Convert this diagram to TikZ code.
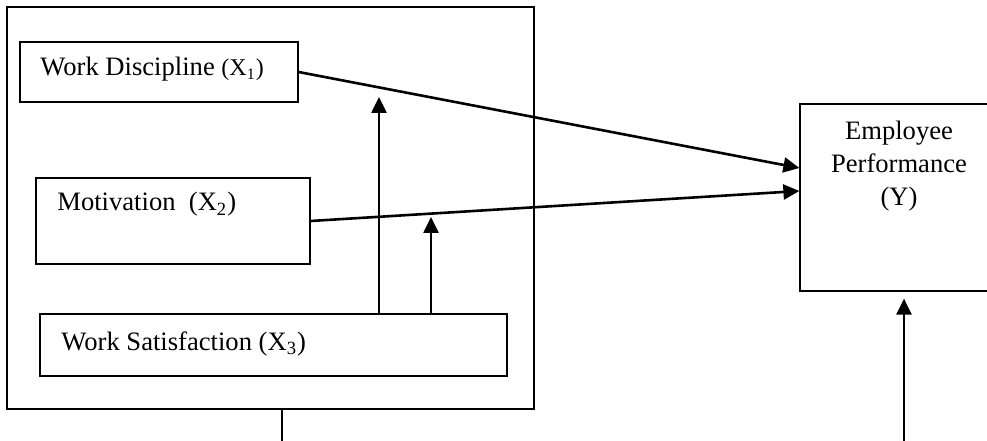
\documentclass[tikz,border=0pt]{standalone}
\usepackage{fontspec}
\setmainfont{Liberation Serif}
\usetikzlibrary{arrows.meta,fit,calc}

\begin{document}
\begin{tikzpicture}[x=0.5pt,y=0.5pt,
        box/.style={draw,inner sep=0pt,line width=0.6pt},
        arr/.style={-{Triangle[length=8pt,width=7.5pt]},line width=1.3pt},
        lbl/.style={anchor=base west,inner sep=0pt,font=\fontsize{13.3}{16}\selectfont}]
            \path[use as bounding box,clip] (0,0) rectangle (987,440);
            \node[box,line width=0.8pt,fit={(7,31) (534,433)}] (frame) {};
            \node[box,fit={(20,338) (298,398)}] (x1) {};
            \node[box,fit={(36,176) (310,262)}] (x2) {};
            \node[box,fit={(40,64) (507,126)}] (x3) {};
            \node[box,fit={(800,149) (1000,336)}] (perf) {};

            \node[lbl] (lx1) at (40,364) {Work Discipline {\fontsize{12}{14}\selectfont(X\textsubscript{1})}};
            \node[lbl] (lx2) at (57,229) {Motivation\ \ (X\textsubscript{2})};
            \node[lbl] (lx3) at (61,90) {Work Satisfaction (X\textsubscript{3})};
            \node[align=center,inner sep=0pt,font=\fontsize{13.3}{16.5}\selectfont] (lperf) at (899,274) {Employee\\Performance\\(Y)};

            \draw[arr] (x1.east) -- ($(perf.west)+(0,29.5)$);
            \draw[arr] (x2.east) -- ($(perf.west)+(0,6.5)$);
            \coordinate (m1) at (379,343);
            \coordinate (m2) at (431,223);
            \draw[arr] (m1 |- x3.north) -- (m1);
            \draw[arr] (m2 |- x3.north) -- (m2);
            \coordinate (b1) at (282,-10);
            \coordinate (b2) at (904,-10);
            \draw[line width=0.8pt] (b1 |- frame.south) -- (b1);
            \draw[arr] (b2) -- ($(b2 |- perf.south)+(0,-7)$);
        \end{tikzpicture}
\end{document}
